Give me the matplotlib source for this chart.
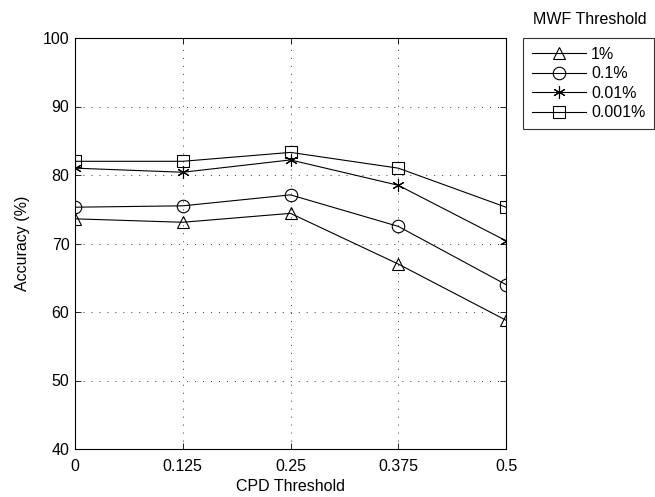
import matplotlib
matplotlib.use("Agg")
import matplotlib.pyplot as plt

plt.rcParams['font.family'] = ['Liberation Sans', 'DejaVu Sans']

cpd = [0, 0.125, 0.25, 0.375, 0.5]
cpd_labels = ['0', '0.125', '0.25', '0.375', '0.5']
acc_1 = [73.6, 73.1, 74.4, 67.0, 58.8]
acc_01 = [75.3, 75.5, 77.1, 72.5, 64.0]
acc_001 = [81.0, 80.4, 82.2, 78.5, 70.4]
acc_0001 = [82.0, 82.0, 83.3, 81.0, 75.3]
series_labels = ['1%', '0.1%', '0.01%', '0.001%']
markers = ['^', 'o', (6, 2, 0), 's']
msizes = [9, 9, 9, 8]

FS = 11.5
W, H = 655, 497
fig = plt.figure(figsize=(W / 100, H / 100), dpi=100)
ax = fig.add_axes([75 / W, 1 - 449 / H, (506 - 75) / W, (449 - 38) / H])

for vals, lab, m, ms in zip([acc_1, acc_01, acc_001, acc_0001], series_labels, markers, msizes):
    ax.plot(cpd, vals, color='black', linewidth=0.8, marker=m, markersize=ms,
            markerfacecolor='none', markeredgecolor='black', markeredgewidth=0.8,
            label=lab)

ax.set_xlim(0, 0.5)
ax.set_ylim(40, 100)
ax.set_xticks(cpd)
ax.set_xticklabels(cpd_labels)
ax.set_yticks([40, 50, 60, 70, 80, 90, 100])
ax.tick_params(direction='in', length=4, width=0.6, labelsize=FS, top=True, right=True,
               labeltop=False, labelright=False)
ax.tick_params(axis='x', pad=7)
ax.tick_params(axis='y', pad=4)
ax.grid(True, linestyle=(0, (1, 7.2)), color='#333333', linewidth=0.7)
for s in ax.spines.values():
    s.set_linewidth(0.8)
ax.set_xlabel('CPD Threshold', fontsize=FS, labelpad=4)
ax.set_ylabel('Accuracy (%)', fontsize=FS, labelpad=9)

leg = fig.legend(loc='upper left', bbox_to_anchor=(523 / W, 1 - 38 / H),
                 fontsize=FS, frameon=True, fancybox=False, edgecolor='black',
                 handlelength=3.4, handletextpad=0.3, labelspacing=0.28,
                 borderpad=0.55, borderaxespad=0)
leg.get_frame().set_linewidth(0.8)
fig.text(590 / W, 1 - 20 / H, 'MWF Threshold', fontsize=FS, ha='center', va='center')

fig.savefig('out.png', dpi=100)
